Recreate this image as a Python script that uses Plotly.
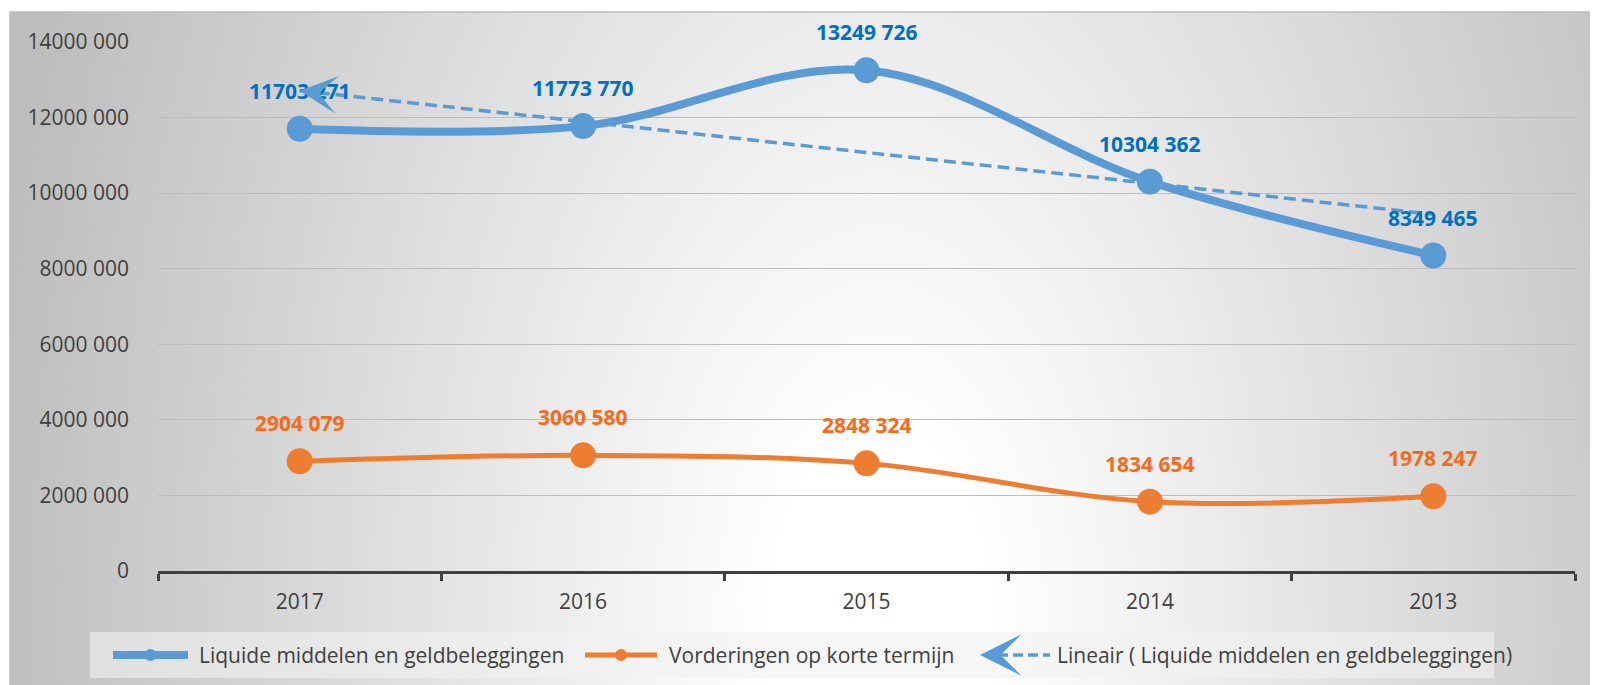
import base64
import numpy as np
import plotly.graph_objects as go

# ---------------- data ----------------
years = ["2017", "2016", "2015", "2014", "2013"]
liquide = [11703271, 11773770, 13249726, 10304362, 8349465]
vorderingen = [2904079, 3060580, 2848324, 1834654, 1978247]
y_tickvals = [0, 2000000, 4000000, 6000000, 8000000, 10000000, 12000000, 14000000]
y_ticktext = ["0", "2000 000", "4000 000", "6000 000", "8000 000", "10000 000", "12000 000", "14000 000"]
series_names = ["Liquide middelen en geldbeleggingen", "Vorderingen op korte termijn",
                "Lineair ( Liquide middelen en geldbeleggingen)"]

# ---------------- style ----------------
BLUE = "#5B9BD5"
ORANGE = "#ED7D31"
BLUE_TXT = "#0070C0"
ORANGE_TXT = "#F46B1A"
GREY_TXT = "#404040"
FONT = "Open Sans"

OFF = 8                      # page body margin
W, H = 1598 - OFF, 685 - OFF
L, R, T, B = 158 - OFF, 23, 42 - OFF, 114
PW, PH = W - L - R, H - T - B


def px(p):                   # page pixel x -> paper
    return (p - OFF - L) / PW


def py(p):                   # page pixel y -> paper
    return (H - B - (p - OFF)) / PH


def fmt(v):
    return f"{v // 1000} {v % 1000:03d}" if v >= 1000 else str(v)


# linear trend of the blue series (Excel "Lineair" trendline)
idx = np.arange(len(years))
slope, icpt = np.polyfit(idx, liquide, 1)
trend = [slope * i + icpt for i in idx]

fig = go.Figure()
fig.add_trace(go.Scatter(x=years, y=liquide, mode="lines+markers", name=series_names[0],
                         line=dict(color=BLUE, width=8, shape="spline", smoothing=1),
                         marker=dict(size=26, color=BLUE), cliponaxis=False, showlegend=False))
fig.add_trace(go.Scatter(x=years, y=vorderingen, mode="lines+markers", name=series_names[1],
                         line=dict(color=ORANGE, width=5, shape="spline", smoothing=1),
                         marker=dict(size=26, color=ORANGE), cliponaxis=False, showlegend=False))
fig.add_trace(go.Scatter(x=years, y=trend, mode="lines", name=series_names[2],
                         line=dict(color=BLUE, width=3.5, dash="12px,6px"),
                         cliponaxis=False, showlegend=False))

annotations = []
for i, v in enumerate(liquide):
    annotations.append(dict(x=i, y=v, xref="x", yref="y", text=f"<b>{fmt(v)}</b>", showarrow=False,
                            yshift=38, font=dict(family=FONT, size=21, color=BLUE_TXT)))
for i, v in enumerate(vorderingen):
    annotations.append(dict(x=i, y=v, xref="x", yref="y", text=f"<b>{fmt(v)}</b>", showarrow=False,
                            yshift=38, font=dict(family=FONT, size=21, color=ORANGE_TXT)))
# arrow head at the start of the trendline
annotations.append(dict(x=0, y=trend[0], xref="x", yref="y", ax=0.08, ay=slope * 0.08 + icpt,
                        axref="x", ayref="y", text="", showarrow=True, arrowhead=3, arrowsize=2.1,
                        arrowwidth=3, arrowcolor=BLUE, standoff=0))

# ---------------- custom legend ----------------
leg_y = 655
shapes = []
# outer chart box border
shapes.append(dict(type="rect", xref="paper", yref="paper", x0=px(10), x1=px(1640), y0=py(720), y1=py(12),
                   line=dict(color="#bdbdbd", width=1.5), fillcolor="rgba(0,0,0,0)", layer="below"))
shapes.append(dict(type="rect", xref="paper", yref="paper", x0=px(90), x1=px(1494), y0=py(678), y1=py(632),
                   line=dict(width=0), fillcolor="rgba(242,242,242,0.6)", layer="below"))
items = [(113, 188, BLUE, 8, 197), (585, 657, ORANGE, 5, 667)]
for (a, b, c, w, tx), name in zip(items, series_names[:2]):
    shapes.append(dict(type="line", xref="paper", yref="paper", x0=px(a), x1=px(b), y0=py(leg_y), y1=py(leg_y),
                       line=dict(color=c, width=w)))
    m = (a + b) / 2
    shapes.append(dict(type="circle", xref="paper", yref="paper", x0=px(m - 6), x1=px(m + 6),
                       y0=py(leg_y + 6), y1=py(leg_y - 6), line=dict(width=0), fillcolor=c))
    annotations.append(dict(x=px(tx), y=py(leg_y), xref="paper", yref="paper", text=name, showarrow=False,
                            xanchor="left", yanchor="middle", font=dict(family=FONT, size=21, color=GREY_TXT)))
shapes.append(dict(type="line", xref="paper", yref="paper", x0=px(998), x1=px(1050), y0=py(leg_y), y1=py(leg_y),
                   line=dict(color=BLUE, width=3.5, dash="10px,5px")))
annotations.append(dict(x=px(980), y=py(leg_y), xref="paper", yref="paper", ax=20, ay=0, text="",
                        showarrow=True, arrowhead=3, arrowsize=2.3, arrowwidth=3, arrowcolor=BLUE, standoff=0))
annotations.append(dict(x=px(1055), y=py(leg_y), xref="paper", yref="paper", text=series_names[2],
                        showarrow=False, xanchor="left", yanchor="middle",
                        font=dict(family=FONT, size=21, color=GREY_TXT)))

# ---------------- radial gradient background ----------------
bw, bh = 1640, 720
svg = f'''<svg xmlns="http://www.w3.org/2000/svg" width="{bw}" height="{bh}" viewBox="0 0 {bw} {bh}" preserveAspectRatio="none">
<defs><radialGradient id="g" gradientUnits="userSpaceOnUse" cx="870" cy="620" r="900"
 gradientTransform="translate(870 620) scale(1 1.8) translate(-870 -620)">
<stop offset="0" stop-color="#ffffff"/><stop offset="0.12" stop-color="#ffffff"/>
<stop offset="1" stop-color="#bdbdbd"/></radialGradient></defs>
<rect x="0" y="0" width="{bw}" height="{bh}" fill="url(#g)"/></svg>'''
src = "data:image/svg+xml;base64," + base64.b64encode(svg.encode()).decode()
images = [dict(source=src, xref="paper", yref="paper", x=px(10), y=py(12), sizex=bw / PW, sizey=bh / PH,
               xanchor="left", yanchor="top", sizing="stretch", layer="below")]

fig.update_layout(
    width=W, height=H, margin=dict(l=L, r=R, t=T, b=B, autoexpand=False),
    paper_bgcolor="white", plot_bgcolor="rgba(0,0,0,0)",
    showlegend=False, annotations=annotations, shapes=shapes, images=images,
    font=dict(family=FONT, size=21, color=GREY_TXT),
)
fig.update_xaxes(type="category", range=[-0.5, 4.5], showgrid=False, showline=True, linecolor=GREY_TXT,
                 linewidth=3, ticks="outside", tickson="boundaries", ticklen=7, tickwidth=3,
                 tickcolor=GREY_TXT, ticklabelstandoff=10, tickfont=dict(family=FONT, size=21, color=GREY_TXT),
                 zeroline=False, fixedrange=True)
fig.update_yaxes(range=[0, 14000000], tickvals=y_tickvals, ticktext=y_ticktext, showgrid=True,
                 gridcolor="#bdbdbd", gridwidth=1.3, showline=False, zeroline=False, ticks="",
                 ticklabelstandoff=28, tickfont=dict(family=FONT, size=21, color=GREY_TXT), fixedrange=True)

fig.write_html("out.html")
